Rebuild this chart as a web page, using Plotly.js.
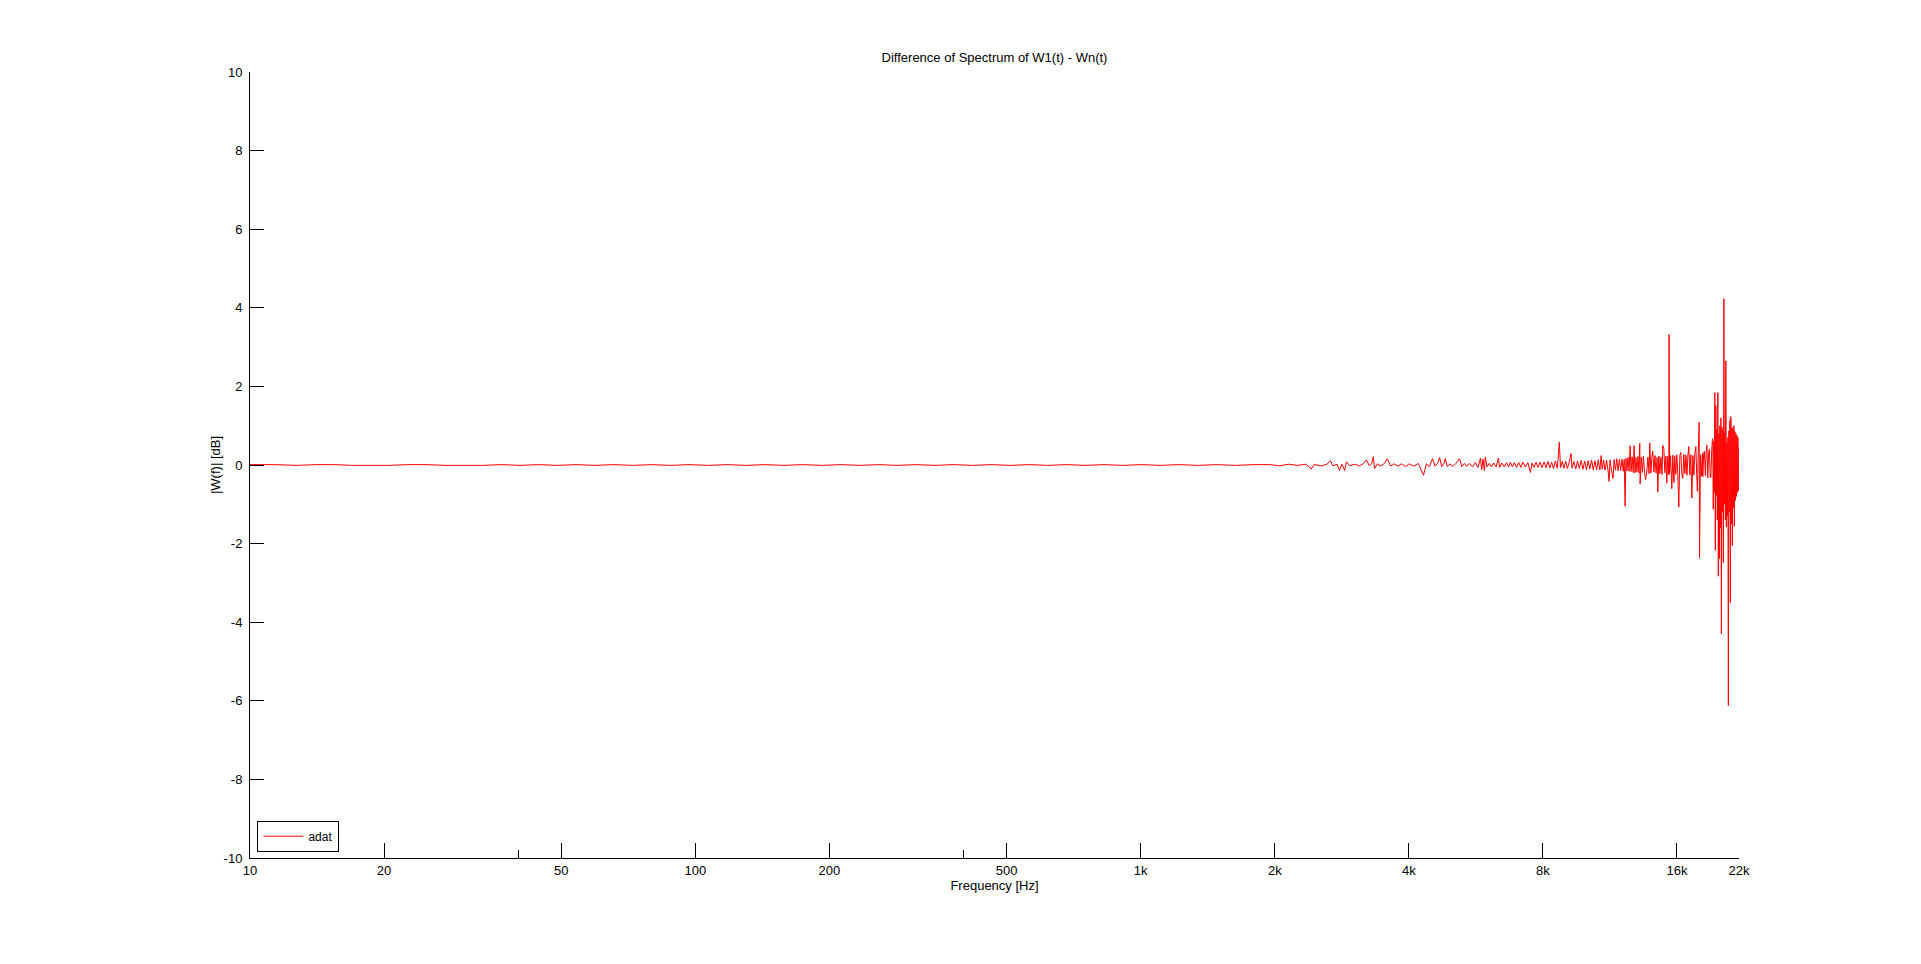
<!DOCTYPE html>
<html>
<head>
<meta charset="utf-8">
<script src="https://cdn.plot.ly/plotly-3.0.1.min.js"></script>
<style>
  html, body { margin: 0; padding: 0; background: #ffffff; }
  #chart { width: 1921px; height: 964px; }
</style>
</head>
<body>
<div id="chart"></div>
<script>
// ---- Data (frequency in Hz, difference in dB) ----
// 10 Hz - 1.8 kHz: almost flat
const freqLow = [
  10, 11.3, 12.7, 14.1, 15.5, 16.9, 18.6, 20.5, 22.6, 24.9,
  27.4, 30.2, 33.3, 36.7, 40.4, 44.5, 49, 54, 59.5, 65.6,
  72.3, 79.7, 87.8, 96.8, 107, 118, 130, 143, 158, 174,
  192, 212, 234, 258, 284, 313, 345, 380, 419, 462,
  509, 561, 618, 681, 750, 827, 911, 1004, 1106, 1219,
  1343, 1480, 1631, 1797
];
const dbLow = [
  0.01, 0.01, -0.01, 0.01, 0.01, -0.01, -0.01, -0.01, 0.01, 0.01,
  -0.01, -0.01, -0.01, 0.01, -0.01, 0.01, -0.01, 0.01, -0.01, 0.01,
  -0.01, 0.01, -0.01, 0.01, -0.01, 0.01, -0.01, 0.01, -0.01, 0.01,
  -0.01, 0.01, -0.01, 0.01, -0.01, 0.01, -0.01, 0.01, -0.01, 0.01,
  -0.01, 0.01, -0.01, 0.01, -0.01, 0.01, -0.01, 0.01, -0.01, 0.01,
  -0.01, 0.01, -0.01, 0.01
];
// 1.9 kHz - 3.5 kHz
const freqB = [
  1950, 2050, 2150, 2250, 2350, 2415, 2450, 2550, 2620, 2667,
  2700, 2760, 2794, 2830, 2870, 2897, 2950, 3020, 3100, 3160,
  3213, 3260, 3300, 3328, 3350, 3400, 3450, 3520
];
const dbB = [
  0.01, -0.02, 0.02, -0.01, 0.02, -0.10, 0.01, -0.02, 0.02, 0.11,
  -0.02, 0.02, -0.14, 0.02, -0.14, 0.08, -0.02, 0.02, -0.02, 0.03,
  0.13, -0.02, 0.03, 0.21, -0.09, 0.03, -0.03, 0.03
];
// 3.6 kHz - 8 kHz
const freqC = [
  3580, 3640, 3700, 3780, 3850, 3930, 4010, 4100, 4200, 4315,
  4380, 4450, 4520, 4580, 4640, 4690, 4740, 4790, 4830, 4880,
  4950, 5020, 5100, 5200, 5260, 5330, 5400, 5480, 5560, 5640,
  5720, 5794, 5830, 5870, 5910, 5940, 5990, 6060, 6130, 6200,
  6280, 6353, 6400, 6470, 6550, 6630, 6700, 6760, 6830, 6900,
  6980, 7060, 7140, 7220, 7300, 7400, 7500, 7560, 7640, 7720,
  7800, 7880, 7960
];
const dbC = [
  0.16, -0.03, 0.03, -0.03, 0.03, -0.04, 0.03, -0.03, 0.04, -0.26,
  0.03, -0.04, 0.16, -0.03, 0.04, 0.19, -0.04, 0.03, 0.16, -0.04,
  0.03, -0.04, 0.04, 0.16, -0.04, 0.04, -0.04, 0.04, -0.05, 0.06,
  -0.06, 0.18, -0.12, 0.15, -0.14, 0.20, -0.05, 0.04, -0.05, 0.05,
  -0.05, 0.17, -0.06, 0.05, -0.05, 0.06, -0.05, 0.07, -0.05, 0.06,
  -0.06, 0.06, -0.06, 0.07, -0.05, 0.06, -0.19, 0.05, -0.06, 0.07,
  -0.06, 0.07, -0.07
];
// 8 kHz - 13.6 kHz
const freqD = [
  8050, 8130, 8210, 8290, 8370, 8450, 8530, 8620, 8709, 8760,
  8840, 8920, 9000, 9080, 9170, 9253, 9300, 9390, 9480, 9570,
  9660, 9750, 9840, 9930, 10020, 10110, 10200, 10290, 10380, 10470,
  10560, 10650, 10740, 10809, 10870, 10950, 11030, 11120, 11200, 11264,
  11320, 11400, 11500, 11560, 11640, 11720, 11800, 11880, 11960, 12040,
  12120, 12180, 12238, 12290, 12350, 12420, 12490, 12559, 12620, 12690,
  12760, 12820, 12880, 12940, 13000, 13080, 13140, 13200, 13225, 13300,
  13380, 13450, 13540, 13600
];
const dbD = [
  0.08, -0.07, 0.09, -0.08, 0.07, -0.09, 0.10, -0.08, 0.58, -0.07,
  0.09, -0.08, 0.10, -0.09, 0.08, 0.29, -0.08, 0.09, -0.10, 0.10,
  -0.09, 0.12, -0.11, 0.10, -0.12, 0.11, -0.10, 0.13, -0.13, 0.11,
  -0.12, 0.13, -0.13, 0.24, -0.10, 0.12, -0.13, 0.12, -0.12, -0.42,
  0.13, -0.12, -0.34, 0.14, -0.13, 0.16, -0.15, 0.14, -0.14, 0.15,
  -0.16, 0.14, -1.05, 0.17, -0.15, 0.19, -0.16, 0.49, -0.17, 0.21,
  -0.19, 0.49, -0.20, 0.19, -0.18, 0.22, -0.20, 0.55, -0.48, 0.20,
  -0.19, 0.22, -0.20, -0.37
];
// 13.7 kHz - 19.2 kHz
const freqE = [
  13690, 13770, 13850, 13900, 13980, 14060, 14120, 14200, 14280, 14360,
  14440, 14490, 14570, 14650, 14730, 14810, 14870, 14950, 15030, 15110,
  15180, 15260, 15340, 15362, 15400, 15480, 15578, 15660, 15750, 15821,
  15900, 15980, 16070, 16153, 16240, 16322, 16410, 16491, 16580, 16670,
  16760, 16850, 16930, 17012, 17100, 17190, 17278, 17370, 17460, 17550,
  17639, 17720, 17780, 17860, 17944, 17980, 18070, 18160, 18250, 18291,
  18370, 18440, 18530, 18600, 18674, 18760, 18850, 18920, 19000, 19064,
  19140, 19220
];
const dbE = [
  -0.18, 0.20, -0.22, 0.56, -0.20, 0.22, 0.35, -0.18, 0.24, -0.21,
  0.19, -0.69, 0.23, -0.22, 0.20, -0.24, 0.50, 0.42, -0.20, 0.23,
  -0.46, 0.22, -0.25, 3.32, -0.21, 0.24, -0.60, 0.25, -0.45, 0.22,
  -0.24, 0.26, -0.22, -1.07, 0.24, 0.32, -0.23, -0.34, 0.27, -0.22,
  0.25, -0.26, 0.23, 0.47, -0.25, 0.26, -0.84, 0.24, -0.26, 0.28,
  0.47, -0.25, -0.67, 0.27, 1.09, -2.37, 0.26, -0.28, 0.30, -0.30,
  0.29, 0.35, -0.27, 0.31, 0.51, -0.33, 0.30, 0.40, -0.31, -0.32,
  0.33, 0.67
];
// 19.3 kHz - 22.05 kHz
const freqF = [
  19260, 19300, 19360, 19410, 19460, 19510, 19562, 19610, 19663, 19710,
  19765, 19815, 19868, 19920, 19974, 20025, 20077, 20130, 20181, 20235,
  20286, 20340, 20391, 20445, 20497, 20550, 20603, 20655, 20710, 20765,
  20817, 20870, 20925, 20980, 21034, 21090, 21143, 21200, 21252, 21307,
  21362, 21418, 21473, 21530, 21585, 21640, 21697, 21752, 21809, 21865,
  21923, 21980, 22020, 22050
];
const dbF = [
  0.64, -1.13, 0.60, -0.70, 1.84, -2.17, 1.51, -0.78, 0.90, -1.40,
  1.84, -2.83, 0.80, -2.38, 1.00, -1.60, 1.20, -4.30, 0.97, -1.20,
  0.90, -2.48, 4.23, -1.00, 0.80, -1.40, 2.65, -1.58, 0.56, -1.30,
  0.70, -6.12, 0.87, -1.20, 1.13, -3.50, 1.23, -1.50, 0.95, -2.05,
  0.92, -1.10, 1.00, -1.56, 0.85, -0.90, 0.80, -0.80, 0.75, -0.70,
  0.70, -0.65, 0.45, 0.10
];

const xTickVals = [10, 20, 50, 100, 200, 500, 1000, 2000, 4000, 8000, 16000, 22050];
const xTickText = ['10', '20', '50', '100', '200', '500', '1k', '2k', '4k', '8k', '16k', '22k'];
const xMinorTicks = [40, 400];
const yTickVals = [-10, -8, -6, -4, -2, 0, 2, 4, 6, 8, 10];
const yTickText = ['-10', '-8', '-6', '-4', '-2', '0', '2', '4', '6', '8', '10'];

const freq = [].concat(freqLow, freqB, freqC, freqD, freqE, freqF);
const diff = [].concat(dbLow, dbB, dbC, dbD, dbE, dbF);

const font = { family: 'Liberation Sans, Arial, Helvetica, sans-serif', size: 13, color: '#000000' };

const trace = {
  type: 'scatter',
  mode: 'lines',
  x: freq,
  y: diff,
  name: 'adat',
  line: { color: '#ff0000', width: 1, simplify: false },
  hoverinfo: 'x+y'
};

const layout = {
  width: 1921,
  height: 964,
  paper_bgcolor: '#ffffff',
  plot_bgcolor: '#ffffff',
  font: font,
  margin: { l: 250, r: 182, t: 72, b: 106, pad: 0 },
  showlegend: true,
  title: {
    text: 'Difference of Spectrum of W1(t) - Wn(t)',
    font: font,
    x: 0.5, xref: 'paper', xanchor: 'center',
    y: 1 - 57 / 964, yref: 'container', yanchor: 'middle'
  },
  xaxis: {
    type: 'log',
    range: [1, Math.log10(22050)],
    showline: true, linecolor: '#000000', linewidth: 1,
    mirror: false, showgrid: false, zeroline: false,
    ticks: 'inside', ticklen: 15, tickwidth: 1, tickcolor: '#000000',
    tickmode: 'array', tickvals: xTickVals, ticktext: xTickText,
    minor: { tickmode: 'array', tickvals: xMinorTicks, ticks: 'inside', ticklen: 8, tickcolor: '#000000', showgrid: false },
    tickfont: font,
    title: { text: 'Frequency [Hz]', font: font, standoff: 4 }
  },
  yaxis: {
    range: [-10, 10],
    showline: true, linecolor: '#000000', linewidth: 1,
    mirror: false, showgrid: false, zeroline: false,
    ticks: 'inside', ticklen: 14, tickwidth: 1, tickcolor: '#000000',
    tickmode: 'array', tickvals: yTickVals, ticktext: yTickText,
    ticklabelstandoff: 4,
    tickfont: font,
    title: { text: '|W(f)| [dB]', font: font, standoff: 0 }
  },
  legend: {
    x: 0.005, y: 0.008, xanchor: 'left', yanchor: 'bottom',
    xref: 'paper', yref: 'paper',
    bgcolor: '#ffffff', bordercolor: '#000000', borderwidth: 1,
    font: { family: font.family, size: 12, color: '#000000' },
    itemwidth: 40, tracegroupgap: 0
  }
};

Plotly.newPlot('chart', [trace], layout, { displayModeBar: false, staticPlot: true });
</script>
</body>
</html>
